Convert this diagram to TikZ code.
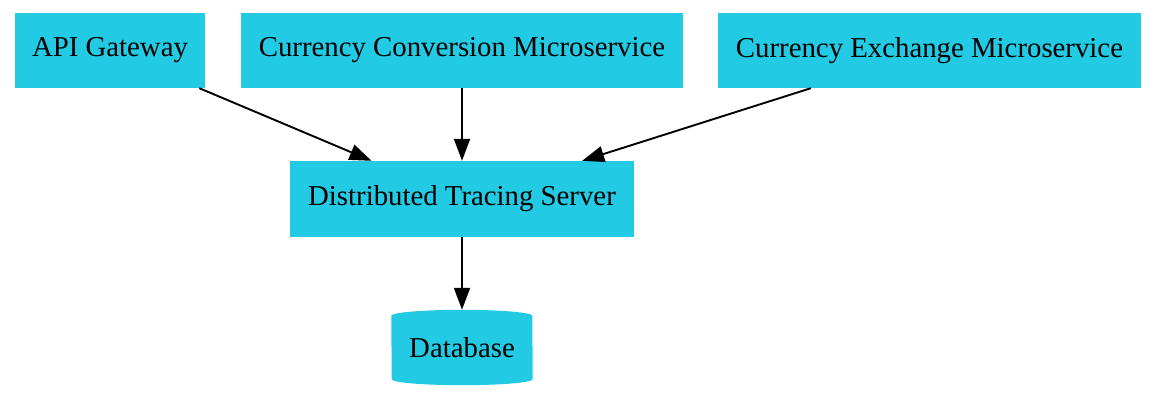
\documentclass[tikz,border=0pt]{standalone}
\usepackage{fontspec}
\setmainfont{Liberation Serif}
\usetikzlibrary{arrows.meta,backgrounds}
\definecolor{boxcyan}{RGB}{34,203,227}
\tikzset{
  x=1pt,y=1pt,
  box/.style={rectangle,fill=boxcyan,draw=none,inner sep=0pt,minimum height=75pt,
    font=\fontsize{28.8}{34}\selectfont},
  dbbox/.style={rectangle,draw=none,inner sep=0pt,minimum width=141pt,minimum height=75pt,
    font=\fontsize{28.8}{34}\selectfont},
  link/.style={line width=1.9pt,-{Triangle[length=22pt,width=16pt]}}
}
\begin{document}
\begin{tikzpicture}
\useasboundingbox (0,0) rectangle (1166,405);
\node[box,minimum width=190pt] (api) at (110,354.5) {API Gateway};
\node[box,minimum width=442pt] (conv) at (462,354.5) {Currency Conversion Microservice};
\node[box,minimum width=423pt] (exch) at (929.5,354.5) {Currency Exchange Microservice};
\node[box,minimum width=344pt,minimum height=76pt] (trace) at (462,206) {Distributed Tracing Server};
\node[dbbox] (db) at (462,57.5) {Database};
\begin{scope}[on background layer]
\fill[boxcyan] ([yshift=-6pt]db.north west) arc[start angle=180,end angle=0,x radius=70.5,y radius=6]
  -- ([yshift=6pt]db.south east) arc[start angle=0,end angle=-180,x radius=70.5,y radius=6] -- cycle;
\end{scope}
\draw[link] (api) -- (trace);
\draw[link] (conv) -- (trace);
\draw[link] (exch) -- (trace);
\draw[link] (trace) -- (db);
\end{tikzpicture}
\end{document}
